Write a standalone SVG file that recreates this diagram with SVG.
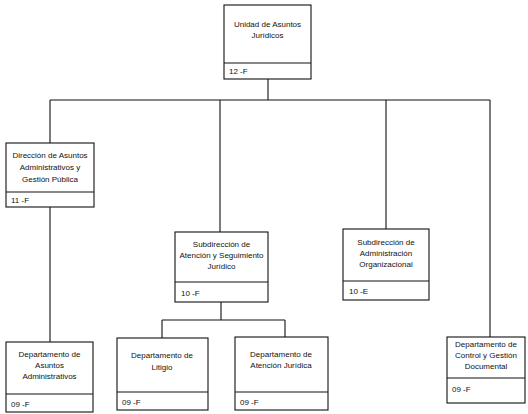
<svg xmlns="http://www.w3.org/2000/svg" width="528" height="414" viewBox="0 0 528 414">
<style>
.box{fill:#fff;stroke:#111;stroke-width:1.1}
.div{stroke:#111;stroke-width:1.1}
.ln{stroke:#111;stroke-width:1.1;fill:none}
text{font-family:"Liberation Sans",Arial,sans-serif;font-size:8px;fill:#111}
.c{text-anchor:middle}
</style>
<rect width="528" height="414" fill="#fff"/>
<g id="connectors">
<path class="ln" d="M268,79V100M50,100H490M50,100V143M220,100V232M386,100V229M490,100V337M50,207V342M221,302V320M162,320H285M162,320V338M285,320V337"/>
</g>
<g id="n-unidad">
<rect class="box" x="224" y="5" width="87" height="74"/>
<line class="div" x1="224" y1="63" x2="311" y2="63"/>
<text class="c" x="267.5" y="27">Unidad de Asuntos</text>
<text class="c" x="267.5" y="38">Jurídicos</text>
<text x="229" y="74">12 -F</text>
</g>
<g id="n-direccion">
<rect class="box" x="6" y="143" width="88" height="64"/>
<line class="div" x1="6" y1="192" x2="94" y2="192"/>
<text class="c" x="50" y="158">Dirección de Asuntos</text>
<text class="c" x="50" y="170">Administrativos y</text>
<text class="c" x="50" y="182">Gestión Pública</text>
<text x="11" y="203">11 -F</text>
</g>
<g id="n-sub-atencion">
<rect class="box" x="175" y="232" width="93" height="70"/>
<line class="div" x1="175" y1="282" x2="268" y2="282"/>
<text class="c" x="221.5" y="247">Subdirección de</text>
<text class="c" x="221.5" y="258">Atención y Seguimiento</text>
<text class="c" x="221.5" y="269">Jurídico</text>
<text x="181" y="296">10 -F</text>
</g>
<g id="n-sub-admin">
<rect class="box" x="343" y="229" width="86" height="71"/>
<line class="div" x1="343" y1="281" x2="429" y2="281"/>
<text class="c" x="386" y="245">Subdirección de</text>
<text class="c" x="386" y="256">Administración</text>
<text class="c" x="386" y="267">Organizacional</text>
<text x="349" y="294">10 -E</text>
</g>
<g id="n-depto-asuntos">
<rect class="box" x="6" y="342" width="87" height="70"/>
<line class="div" x1="6" y1="394" x2="93" y2="394"/>
<text class="c" x="49.5" y="357">Departamento de</text>
<text class="c" x="49.5" y="368">Asuntos</text>
<text class="c" x="49.5" y="379">Administrativos</text>
<text x="11" y="407">09 -F</text>
</g>
<g id="n-depto-litigio">
<rect class="box" x="117" y="338" width="91" height="72"/>
<line class="div" x1="117" y1="392" x2="208" y2="392"/>
<text class="c" x="162" y="358">Departamento de</text>
<text class="c" x="162" y="370">Litigio</text>
<text x="122" y="405">09 -F</text>
</g>
<g id="n-depto-atencion">
<rect class="box" x="235" y="337" width="93" height="73"/>
<line class="div" x1="235" y1="392" x2="328" y2="392"/>
<text class="c" x="281" y="357">Departamento de</text>
<text class="c" x="281" y="368">Atención Jurídica</text>
<text x="240" y="405">09 -F</text>
</g>
<g id="n-depto-control">
<rect class="box" x="447" y="337" width="78" height="66"/>
<line class="div" x1="447" y1="378" x2="525" y2="378"/>
<text class="c" x="486" y="347">Departamento de</text>
<text class="c" x="486" y="358">Control y Gestión</text>
<text class="c" x="486" y="369">Documental</text>
<text x="452" y="392">09 -F</text>
</g>
</svg>
